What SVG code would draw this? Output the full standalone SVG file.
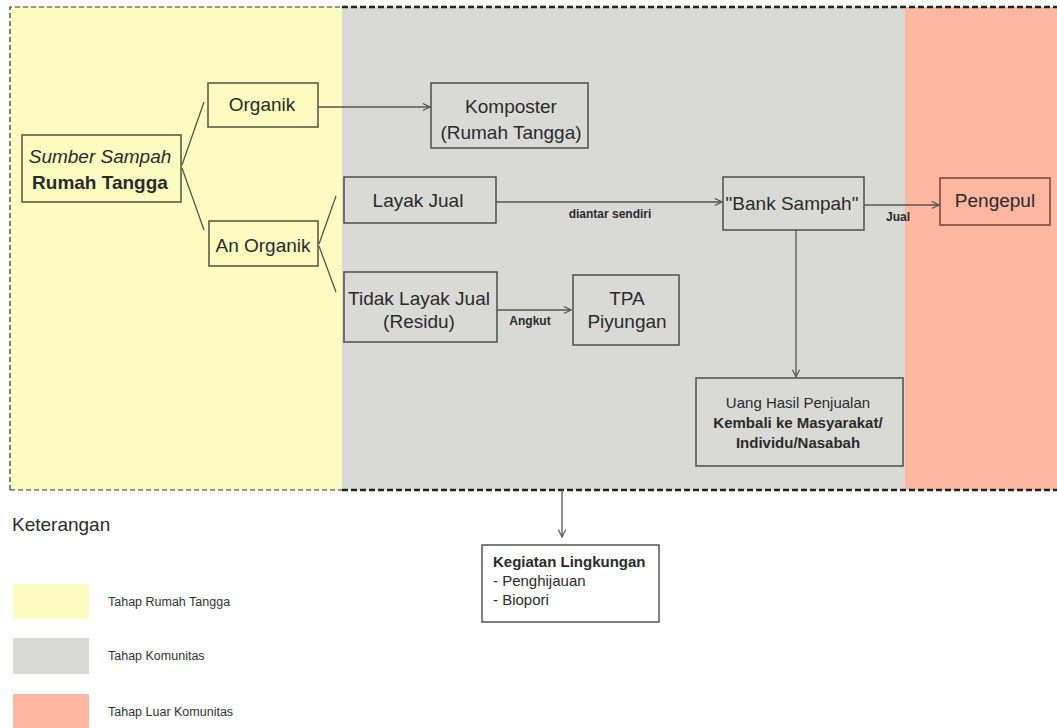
<svg xmlns="http://www.w3.org/2000/svg" width="1057" height="728" viewBox="0 0 1057 728">
<style>
text{font-family:"Liberation Sans",Arial,sans-serif;fill:#2b2b2b}
.box{fill:none;stroke:#5e5c45;stroke-width:1.6}
.bx2{fill:none;stroke:#555;stroke-width:1.6}
.ln{fill:none;stroke:#555;stroke-width:1.3}
.t{font-size:19px;text-anchor:middle}
.lbl{font-size:12px;font-weight:bold;text-anchor:middle}
.leg{font-size:12.5px;fill:#333}
.kg{font-size:15px}
</style>
<defs>
<marker id="arr" viewBox="0 0 10 10" refX="9" refY="5" markerWidth="9" markerHeight="9" markerUnits="userSpaceOnUse" orient="auto">
<path d="M1,1 L9,5 L1,9" fill="none" stroke="#555" stroke-width="1.3"/>
</marker>
</defs>
<g id="zones">
<rect x="10" y="7" width="332" height="483" fill="#fdfcc0"/>
<rect x="342" y="7" width="563" height="483" fill="#d9dad6"/>
<rect x="905" y="7" width="152" height="483" fill="#fdb6a0"/>
<path d="M10,490 L10,7 L342,7 M10,490 L342,490" fill="none" stroke="#333" stroke-width="1.2" stroke-dasharray="5,3"/>
<path d="M342,7 L1057,7 M342,490 L1057,490" fill="none" stroke="#222" stroke-width="2.6" stroke-dasharray="6,3"/>
</g>
<g id="connectors">
<path class="ln" d="M182,165 L204,102 M182,168 L204,230"/>
<path class="ln" d="M319,244 L336,196 M319,246 L336,292"/>
<path class="ln" d="M318,107 L430,107" marker-end="url(#arr)"/>
<path class="ln" d="M496,202 L722,202" marker-end="url(#arr)"/>
<path class="ln" d="M864,205 L939,205" marker-end="url(#arr)"/>
<path class="ln" d="M497,310 L571,310" marker-end="url(#arr)"/>
<path class="ln" d="M796,230 L796,377" marker-end="url(#arr)"/>
<path class="ln" d="M562,490 L562,537" marker-end="url(#arr)"/>
<text class="lbl" x="610" y="218">diantar sendiri</text>
<text class="lbl" x="898" y="221">Jual</text>
<text class="lbl" x="530" y="325">Angkut</text>
</g>
<g id="sumber">
<rect class="box" x="22" y="135" width="159" height="67"/>
<text class="t" x="100" y="163" font-style="italic" font-size="18.5">Sumber Sampah</text>
<text class="t" x="100" y="189" font-weight="bold" font-size="18.5">Rumah Tangga</text>
</g>
<g id="organik">
<rect class="box" x="208" y="83" width="110" height="44"/>
<text class="t" x="262" y="111">Organik</text>
</g>
<g id="anorganik">
<rect class="box" x="209" y="221" width="109" height="45"/>
<text class="t" x="263" y="252">An Organik</text>
</g>
<g id="komposter">
<rect class="bx2" x="431" y="83" width="157" height="65"/>
<text class="t" x="511" y="113" font-size="20">Komposter</text>
<text class="t" x="511" y="139" font-size="20">(Rumah Tangga)</text>
</g>
<g id="layakjual">
<rect class="bx2" x="344" y="177" width="152" height="46"/>
<text class="t" x="418" y="207">Layak Jual</text>
</g>
<g id="tidaklayak">
<rect class="bx2" x="344" y="272" width="153" height="70"/>
<text class="t" x="419" y="305">Tidak Layak Jual</text>
<text class="t" x="419" y="328">(Residu)</text>
</g>
<g id="tpa">
<rect class="bx2" x="573" y="275" width="106" height="70"/>
<text class="t" x="627" y="305" font-size="20">TPA</text>
<text class="t" x="627" y="328" font-size="20">Piyungan</text>
</g>
<g id="banksampah">
<rect class="bx2" x="723" y="177" width="141" height="53"/>
<text class="t" x="792" y="210">"Bank Sampah"</text>
</g>
<g id="pengepul">
<rect x="940" y="178" width="110" height="47" fill="none" stroke="#7a4a3c" stroke-width="1.6"/>
<text class="t" x="995" y="207">Pengepul</text>
</g>
<g id="uang">
<rect class="bx2" x="696" y="378" width="207" height="88"/>
<text x="798" y="408" text-anchor="middle" font-size="15" fill="#3a3a3a">Uang Hasil Penjualan</text>
<text x="798" y="428" text-anchor="middle" font-size="15" font-weight="bold">Kembali ke Masyarakat/</text>
<text x="798" y="448" text-anchor="middle" font-size="15" font-weight="bold">Individu/Nasabah</text>
</g>
<g id="kegiatan">
<rect x="482" y="545" width="177" height="77" fill="#fff" stroke="#555" stroke-width="1.5"/>
<text class="kg" x="493" y="567" font-weight="bold">Kegiatan Lingkungan</text>
<text class="kg" x="493" y="586">- Penghijauan</text>
<text class="kg" x="493" y="605">- Biopori</text>
</g>
<g id="legend">
<text x="12" y="531" font-size="19" fill="#333">Keterangan</text>
<rect x="13" y="584" width="76" height="35" fill="#fdfcc0"/>
<text class="leg" x="108" y="606">Tahap Rumah Tangga</text>
<rect x="13" y="638" width="76" height="36" fill="#d9dad6"/>
<text class="leg" x="108" y="660">Tahap Komunitas</text>
<rect x="13" y="694" width="76" height="34" fill="#fdb6a0"/>
<text class="leg" x="108" y="716">Tahap Luar Komunitas</text>
</g>
</svg>
